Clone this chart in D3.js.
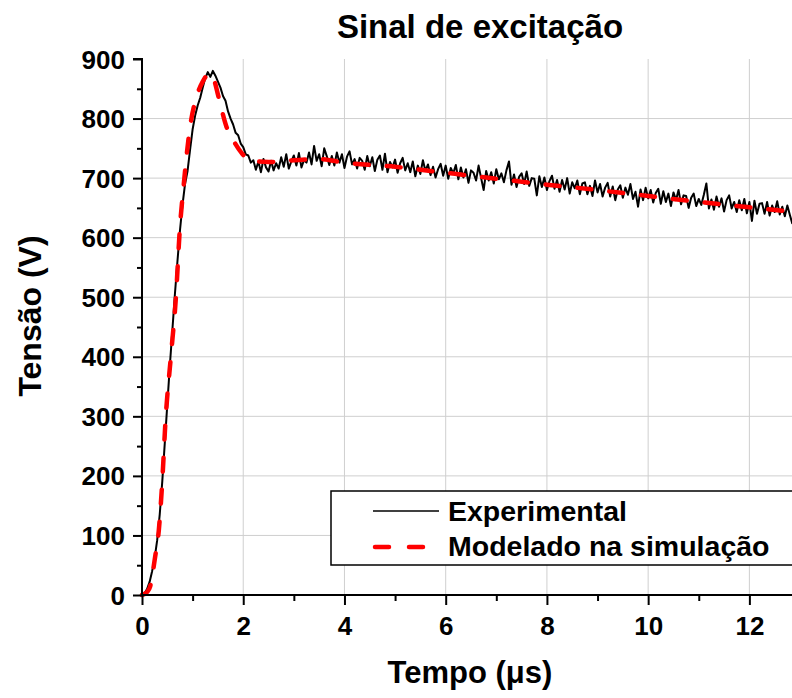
<!DOCTYPE html>
<html>
<head>
<meta charset="utf-8">
<script src="https://cdn.jsdelivr.net/npm/d3@7/dist/d3.min.js"></script>
<style>
  html, body { margin: 0; padding: 0; background: #fff; }
  svg { display: block; font-family: "Liberation Sans", Arial, sans-serif; font-weight: bold; }
</style>
</head>
<body>
<svg id="chart" width="792" height="698"></svg>
<script>
// ---- data ----
const title = "Sinal de excitação";
const xLabel = "Tempo (\u03BCs)";
const yLabel = "Tensão (V)";
const seriesNames = ["Experimental", "Modelado na simulação"];
const xTicks = [0, 2, 4, 6, 8, 10, 12];
const yTicks = [0, 100, 200, 300, 400, 500, 600, 700, 800, 900];

// Experimental signal, sampled every 0.05 µs starting at t = 0
const expStep = 0.05;
const expValues = [
  0, 3, 10, 22, 40, 62, 92, 135, 190, 255,
  320, 385, 445, 505, 560, 612, 655, 690, 712, 748,
  782, 805, 822, 835, 852, 868, 878, 870, 880, 872,
  862, 852, 838, 830, 812, 800, 790, 776, 772, 758,
  752, 740, 738, 726, 730,
  714, 728, 710, 732, 718, 711, 729, 713, 725, 716,
  735, 719, 740, 716, 728, 738, 721, 742, 718, 730,
  726, 743, 723, 754, 729, 740, 720, 750, 737, 722,
  737, 721, 743, 726, 740, 717, 736, 745, 723, 732,
  716, 734, 729, 714, 737, 720, 735, 712, 731, 738,
  714, 741, 710, 727, 718, 731, 709, 725, 734, 713,
  725, 710, 728, 703, 721, 707, 730, 712, 723, 705,
  719, 701, 715, 724, 704, 721, 699, 717, 708, 722,
  698, 718, 701, 715, 692, 713, 709, 696, 721, 700,
  680, 712, 696, 710, 691, 715, 698, 708, 693, 713,
  728, 689, 706, 685, 702, 708, 690, 711, 687, 700,
  699, 671, 703, 685, 701, 680, 695, 704, 682, 697,
  677, 697, 681, 700, 674, 693, 683, 696, 673, 691,
  693, 673, 687, 670, 696, 676, 690, 669, 684, 692,
  669, 686, 663, 681, 688, 667, 684, 672, 690, 665,
  677, 652, 681, 663, 684, 666, 680, 659, 675, 682,
  657, 678, 660, 674, 653, 676, 663, 680, 656, 671,
  670, 650, 667, 674, 653, 665, 655, 672, 691, 649,
  664, 647, 669, 652, 666, 644, 663, 671, 649, 660,
  643, 663, 646, 665, 641, 660, 628, 662, 640, 657,
  658, 640, 660, 637, 654, 643, 661, 639, 652, 636,
  654, 638, 623
];

// Simulated model (smooth)
const modelTime = [0, 0.1, 0.16, 0.22, 0.27, 0.32, 0.39, 0.47, 0.57, 0.67, 0.75, 0.82, 0.95, 1.08, 1.2, 1.34, 1.42, 1.51, 1.67, 1.8, 1.97, 2.13, 2.5, 3.0, 3.5, 4.0, 5.0, 6.0, 7.0, 8.0, 9.0, 10.0, 11.0, 12.0, 12.9];
const modelValues = [0, 5, 14, 42, 70, 98, 176, 300, 400, 500, 618, 685, 786, 837, 862, 876, 866, 837, 786, 764, 742, 730, 727, 730, 732, 726, 719, 709, 699, 689, 680, 670, 660, 651, 643];

// ---- chart ----
const svg = d3.select("#chart");
const x = d3.scaleLinear().domain([0, 13]).range([142, 800]);
const y = d3.scaleLinear().domain([0, 900]).range([595, 59]);

// grid
const grid = svg.append("g").attr("stroke", "#cfcfcf").attr("stroke-width", 1);
grid.selectAll("line.v").data(xTicks.filter(d => d > 0)).join("line")
  .attr("x1", d => x(d)).attr("x2", d => x(d)).attr("y1", y(900)).attr("y2", y(0));
grid.selectAll("line.h").data(yTicks.filter(d => d > 0 && d < 900)).join("line")
  .attr("x1", x(0)).attr("x2", 792).attr("y1", d => y(d)).attr("y2", d => y(d));

// lines
const expData = expValues.map((v, i) => [i * expStep, v]);
const modelData = modelTime.map((t, i) => [t, modelValues[i]]);
const line = d3.line().x(d => x(d[0])).y(d => y(d[1]));

svg.append("path").datum(expData).attr("d", line)
  .attr("fill", "none").attr("stroke", "#000").attr("stroke-width", 2).attr("stroke-linejoin", "round");
svg.append("path").datum(modelData).attr("d", d3.line().curve(d3.curveMonotoneX).x(d => x(d[0])).y(d => y(d[1])))
  .attr("fill", "none").attr("stroke", "#ff0000").attr("stroke-width", 4.5)
  .attr("stroke-dasharray", "14,18").attr("stroke-linecap", "round");

// axes
const xAxis = d3.axisBottom(x).tickValues(d3.range(0, 13, 1)).tickSize(10).tickFormat(d => xTicks.includes(d) ? d : "");
const gx = svg.append("g").attr("transform", `translate(0,${y(0)})`).call(xAxis);
gx.select(".domain").attr("stroke-width", 2).attr("d", `M${x(0)-1},0H792`);
gx.selectAll(".tick line").attr("stroke-width", 2).attr("y2", d => xTicks.includes(d) ? 10 : 6);
gx.selectAll(".tick text").attr("font-size", 26).attr("font-weight", "bold").attr("fill", "#000")
  .attr("y", 22).attr("dy", "0.71em").attr("font-family", "Liberation Sans, Arial, sans-serif");

const yAxis = d3.axisLeft(y).tickValues(d3.range(0, 901, 50)).tickSize(9).tickFormat(d => yTicks.includes(d) ? d : "");
const gy = svg.append("g").attr("transform", `translate(${x(0)},0)`).call(yAxis);
gy.select(".domain").attr("stroke-width", 2).attr("d", `M-9,${y(900)}H0V${y(0)+1}`);
gy.selectAll(".tick line").attr("stroke-width", 2).attr("x2", d => yTicks.includes(d) ? -9 : -5);
gy.selectAll(".tick text").attr("font-size", 26).attr("font-weight", "bold").attr("fill", "#000")
  .attr("x", -17).attr("dy", "0.35em").attr("font-family", "Liberation Sans, Arial, sans-serif");

// titles
svg.append("text").attr("x", 480).attr("y", 38).attr("text-anchor", "middle")
  .attr("font-size", 33).text(title);
svg.append("text").attr("x", 470).attr("y", 683).attr("text-anchor", "middle")
  .attr("font-size", 31).text(xLabel);
svg.append("text").attr("transform", "translate(41,316) rotate(-90)").attr("text-anchor", "middle")
  .attr("font-size", 32).text(yLabel);

// legend
const lg = svg.append("g");
lg.append("rect").attr("x", 331).attr("y", 491).attr("width", 480).attr("height", 74)
  .attr("fill", "#fff").attr("stroke", "#000").attr("stroke-width", 1.5);
lg.append("line").attr("x1", 373).attr("x2", 439).attr("y1", 511).attr("y2", 511)
  .attr("stroke", "#000").attr("stroke-width", 1.5);
lg.append("line").attr("x1", 375).attr("x2", 440).attr("y1", 547).attr("y2", 547)
  .attr("stroke", "#ff0000").attr("stroke-width", 4.5).attr("stroke-dasharray", "14,20").attr("stroke-linecap", "round");
lg.append("text").attr("x", 448).attr("y", 521).attr("font-size", 28.5).text(seriesNames[0]);
lg.append("text").attr("x", 448).attr("y", 556).attr("font-size", 28.5).text(seriesNames[1]);
</script>
</body>
</html>
